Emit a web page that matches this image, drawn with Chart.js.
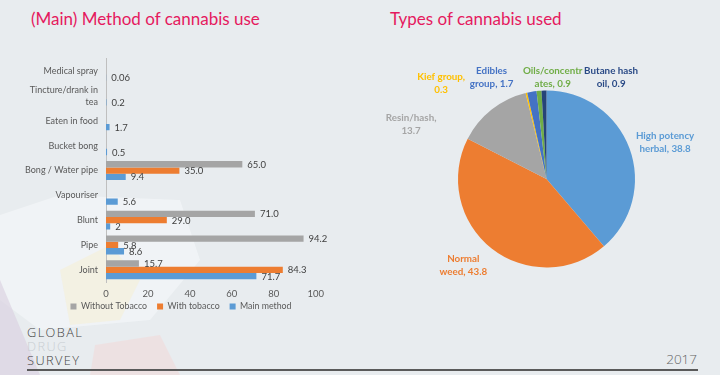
<!DOCTYPE html>
<html>
<head>
<meta charset="utf-8">
<script src="https://cdn.jsdelivr.net/npm/chart.js@4.4.0/dist/chart.umd.min.js"></script>
<style>
  html, body { margin:0; padding:0; }
  body { width:720px; height:375px; background:#e8ecef; position:relative; overflow:hidden; font-family: Lato, "Open Sans", sans-serif; }
  .title { position:absolute; top:8px; font-size:17px; color:#e5195e; font-family: Lato, sans-serif; white-space:nowrap; }
  #bg { position:absolute; left:0; top:0; }
  canvas { position:absolute; }
  .logo { position:absolute; left:27px; top:326px; font-family:"Open Sans", sans-serif; font-weight:300; font-size:12.8px; line-height:13.8px; letter-spacing:1.4px; color:#444; }
  .logo .drug { color:#c9ced3; }
  .year { position:absolute; right:23px; top:350px; font-family:"Open Sans", sans-serif; font-weight:300; font-size:13.5px; color:#666; }
  .rule { position:absolute; left:27px; top:369px; width:671px; height:2px; background:#5a5a5a; }
</style>
</head>
<body>
<svg id="bg" width="720" height="375">
  <polygon points="0,215 60,195 180,200 200,260 150,320 40,330 0,300" fill="#f1f4f6" opacity="0.9"/>
  <polygon points="0,280 40,375 0,375" fill="#d9cfe0" opacity="0.6"/>
  <polygon points="60,270 110,245 140,280 120,320 70,325" fill="#f3efdc" opacity="0.7"/>
  <polygon points="95,345 160,335 180,375 90,375" fill="#eedede" opacity="0.8"/>
</svg>
<div class="title" style="left:31px;">(Main) Method of cannabis use</div>
<div class="title" style="left:390px;">Types of cannabis used</div>
<canvas id="bar" width="330" height="276" style="left:0;top:45px;"></canvas>
<canvas id="pie" width="360" height="300" style="left:360px;top:40px;"></canvas>
<div class="logo">GLOBAL<br><span class="drug">DRUG</span><br>SURVEY</div>
<div class="year">2017</div>
<div class="rule"></div>
<script>
// ---- Data ----
const methodCategories = ['Medical spray', ['Tincture/drank in', 'tea'], 'Eaten in food', 'Bucket bong', 'Bong / Water pipe', 'Vapouriser', 'Blunt', 'Pipe', 'Joint'];
const withoutTobacco = [null, null, null, null, 65.0, null, 71.0, 94.2, 15.7];
const withTobacco    = [null, null, null, null, 35.0, null, 29.0, 5.8, 84.3];
const mainMethod     = [0.06, 0.2, 1.7, 0.5, 9.4, 5.6, 2, 8.6, 71.7];
const seriesNames    = ['Without Tobacco', 'With tobacco', 'Main method'];
const xTicks         = [0, 20, 40, 60, 80, 100];

const typeCategories = ['High potency herbal', 'Normal weed', 'Resin/hash', 'Kief group', 'Edibles group', 'Oils/concentrates', 'Butane hash oil'];
const typeValues     = [38.8, 43.8, 13.7, 0.3, 1.7, 0.9, 0.9];

// ---- Bar chart ----
const barColors = ['#a5a5a5', '#ed7d31', '#5b9bd5'];
const valueLabelPlugin = {
  id: 'valueLabels',
  afterDatasetsDraw(chart) {
    const ctx = chart.ctx;
    ctx.save();
    ctx.font = '9.5px Lato, sans-serif';
    ctx.fillStyle = '#404040';
    ctx.textBaseline = 'middle';
    ctx.textAlign = 'left';
    chart.data.datasets.forEach((ds, di) => {
      const meta = chart.getDatasetMeta(di);
      meta.data.forEach((bar, i) => {
        const v = ds.data[i];
        if (v === null || v === undefined) return;
        const txt = di < 2 ? v.toFixed(1) : String(v);
        ctx.fillText(txt, bar.x + 5, bar.y + 0.5);
      });
    });
    ctx.restore();
  }
};

new Chart(document.getElementById('bar'), {
  type: 'bar',
  data: {
    labels: methodCategories,
    datasets: [
      { label: seriesNames[0], data: withoutTobacco, backgroundColor: barColors[0] },
      { label: seriesNames[1], data: withTobacco, backgroundColor: barColors[1] },
      { label: seriesNames[2], data: mainMethod, backgroundColor: barColors[2] }
    ]
  },
  options: {
    indexAxis: 'y',
    responsive: false,
    animation: false,
    devicePixelRatio: 1,
    layout: { padding: { left: 44, right: 12, top: 12.5, bottom: 0 } },
    datasets: { bar: { categoryPercentage: 0.76, barPercentage: 1.0, skipNull: false } },
    scales: {
      x: {
        min: 0, max: 100,
        afterBuildTicks: (s) => { s.ticks = xTicks.map(v => ({ value: v })); },
        grid: { display: false, drawTicks: false },
        border: { display: false },
        ticks: { color: '#595959', font: { size: 9.5, family: 'Lato' }, padding: 6 },
        afterFit: (s) => { s.height = 10; s._computeLabelArea = () => null; }
      },
      y: {
        grid: { display: false, drawTicks: false },
        border: { display: true, color: '#bfbfbf', width: 1 },
        ticks: { color: '#595959', font: { size: 9, family: 'Lato', lineHeight: 1.3 }, padding: 8, autoSkip: false },
        afterFit: (s) => { s.width = 62; s._computeLabelArea = () => null; }
      }
    },
    plugins: {
      legend: {
        position: 'bottom',
        labels: { boxWidth: 6, boxHeight: 6, padding: 10, color: '#595959', font: { size: 8.8, family: 'Lato' } }
      },
      tooltip: { enabled: false }
    }
  },
  plugins: [valueLabelPlugin]
});

// ---- Pie chart ----
const pieColors = ['#5b9bd5', '#ed7d31', '#a5a5a5', '#ffc000', '#4472c4', '#70ad47', '#264478'];
const pieLabelPlugin = {
  id: 'pieLabels',
  afterDatasetsDraw(chart, args, opts) {
    const ctx = chart.ctx;
    const arc = chart.getDatasetMeta(0).data[0];
    const cx = arc.x, cy = arc.y, r = arc.outerRadius;
    ctx.save();
    ctx.font = 'bold 9.8px Lato, sans-serif';
    ctx.textAlign = 'center';
    ctx.textBaseline = 'middle';
    const vals = chart.data.datasets[0].data;
    chart.data.labels.forEach((lab, i) => {
      const full = lab + ', ' + vals[i];
      const k = opts.wrap[i];
      const l1 = full.slice(0, k).trim();
      const l2 = full.slice(k).trim();
      const [ox, oy] = opts.offsets[i];
      const x = cx + ox * r, y = cy + oy * r;
      ctx.fillStyle = opts.colors[i];
      ctx.fillText(l1, x, y - 6.5);
      ctx.fillText(l2, x, y + 6.5);
    });
    ctx.restore();
  }
};

new Chart(document.getElementById('pie'), {
  type: 'pie',
  data: {
    labels: typeCategories,
    datasets: [{ data: typeValues, backgroundColor: pieColors, borderWidth: 0 }]
  },
  options: {
    responsive: false,
    animation: false,
    devicePixelRatio: 1,
    layout: { padding: { top: 50.5, bottom: 72.5, left: 20, right: 7 } },
    plugins: {
      legend: { display: false },
      tooltip: { enabled: false },
      pieLabels: {
        wrap: [12, 6, 11, 11, 7, 13, 11],
        offsets: [[1.34, -0.41], [-0.94, 0.98], [-1.53, -0.62], [-1.19, -1.08], [-0.62, -1.15], [0.07, -1.15], [0.73, -1.15]],
        colors: ['#5b9bd5', '#ed7d31', '#a5a5a5', '#ffc000', '#4472c4', '#70ad47', '#2a4a86']
      }
    }
  },
  plugins: [pieLabelPlugin]
});
</script>
</body>
</html>
